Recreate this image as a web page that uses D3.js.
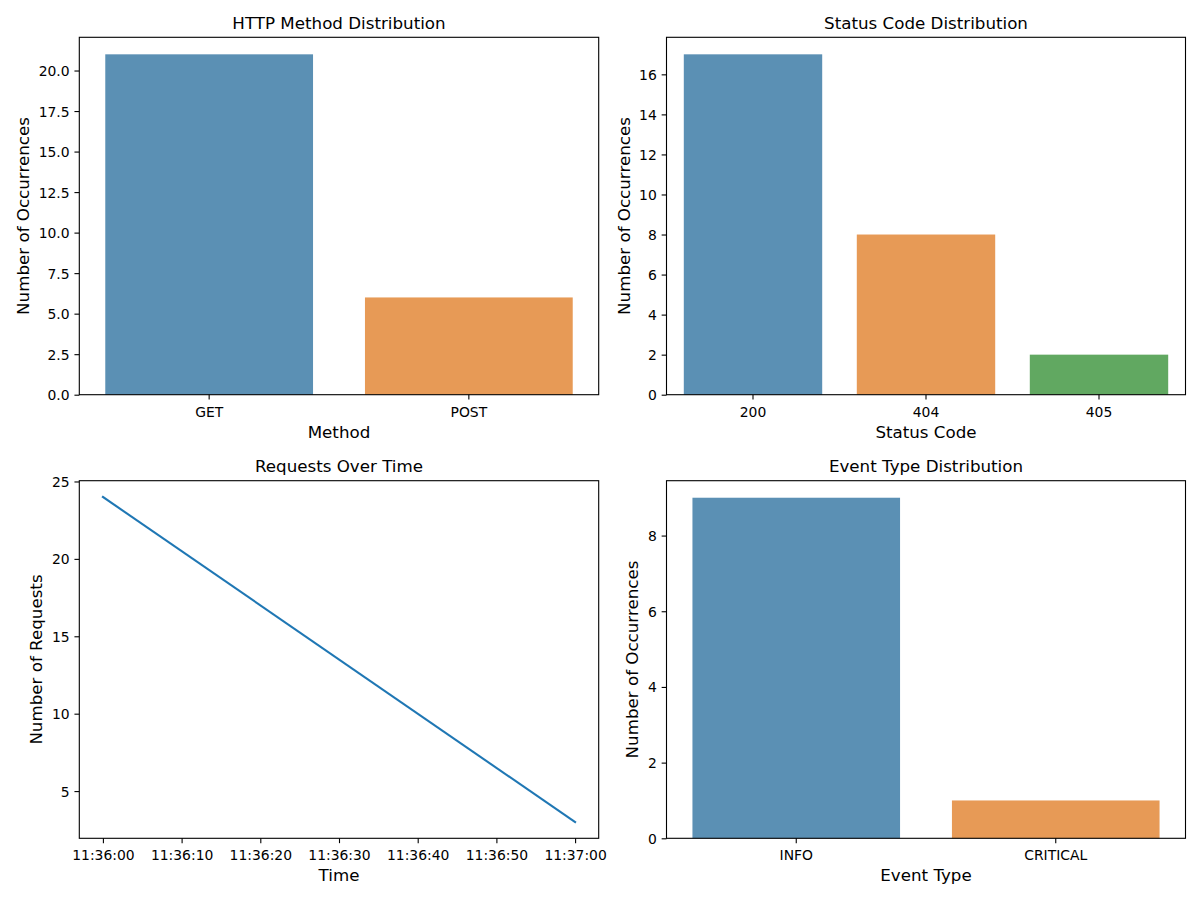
<!DOCTYPE html>
<html>
<head>
<meta charset="utf-8">
<script src="https://cdn.jsdelivr.net/npm/d3@7"></script>
<style>
  body { margin: 0; background: #fff; }
  svg { font-family: "DejaVu Sans", sans-serif; }
</style>
</head>
<body>
<div id="chart"></div>
<script>
// Data
const methods = ["GET", "POST"];
const methodCounts = [21, 6];
const methodTicks = [0, 2.5, 5, 7.5, 10, 12.5, 15, 17.5, 20];

const statusCodes = ["200", "404", "405"];
const statusCounts = [17, 8, 2];
const statusTicks = [0, 2, 4, 6, 8, 10, 12, 14, 16];

const requestTimes = ["11:36:00", "11:37:00"];
const requestCounts = [24, 3];

const eventTypes = ["INFO", "CRITICAL"];
const eventCounts = [9, 1];
const eventTicks = [0, 2, 4, 6, 8];

// Seaborn-ish palette (desaturated tab10, drawn with alpha 0.8)
const palette = ["#3274a1", "#e1812c", "#3a923a"];

const W = 1200, H = 900;
const tickFont = 13.9, labelFont = 16.7;
const tickLen = 4.86, tickPad = 4.86;

const svg = d3.select("#chart").append("svg")
  .attr("width", W)
  .attr("height", H);

// Panel boxes
const panels = {
  tl: {x0: 79.3, x1: 598.7, y0: 37.3, y1: 394.7},
  tr: {x0: 666.5, x1: 1185.5, y0: 37.3, y1: 394.7},
  bl: {x0: 79.3, x1: 598.7, y0: 480.7, y1: 838.3},
  br: {x0: 666.5, x1: 1185.5, y0: 480.7, y1: 838.3}
};

function styleAxis(g, bottom){
  g.attr("font-family", "DejaVu Sans, sans-serif").attr("font-size", tickFont);
  g.select(".domain").remove();
  g.selectAll(".tick line").attr("stroke", "#000").attr("stroke-width", 1.1);
  g.selectAll(".tick text")
    .attr("fill", "#000")
    .style("font-size", tickFont + "px")
    .attr("dy", bottom ? "0.88em" : "0.36em");
}

// Draw frame, title, axis labels
function decorate(p, title, xLabel, yLabel, yAxisG){
  svg.append("rect")
    .attr("x", p.x0).attr("y", p.y0)
    .attr("width", p.x1 - p.x0).attr("height", p.y1 - p.y0)
    .attr("fill", "none").attr("stroke", "#000").attr("stroke-width", 1.1);

  svg.append("text")
    .attr("x", (p.x0 + p.x1) / 2)
    .attr("y", p.y0 - 8.3)
    .attr("text-anchor", "middle")
    .style("font-size", labelFont + "px")
    .text(title);

  svg.append("text")
    .attr("x", (p.x0 + p.x1) / 2)
    .attr("y", p.y1 + 43)
    .attr("text-anchor", "middle")
    .style("font-size", labelFont + "px")
    .text(xLabel);

  // place y label left of the widest tick label
  let minX = p.x0;
  yAxisG.selectAll(".tick text").each(function(){
    const b = this.getBBox();
    minX = Math.min(minX, p.x0 + b.x);
  });
  const lx = minX - 5.6 - 3.9;
  const cy = (p.y0 + p.y1) / 2;
  svg.append("text")
    .attr("transform", "translate(" + lx + "," + cy + ") rotate(-90)")
    .attr("text-anchor", "middle")
    .style("font-size", labelFont + "px")
    .text(yLabel);
}

function barChart(p, cats, vals, ticks, fmt, title, xLabel){
  const x = d3.scaleBand()
    .domain(cats)
    .range([p.x0, p.x1])
    .paddingInner(0.2)
    .paddingOuter(0.1);

  const y = d3.scaleLinear()
    .domain([0, d3.max(vals) * 1.05])
    .range([p.y1, p.y0]);

  svg.append("g").selectAll("rect")
    .data(cats)
    .enter().append("rect")
    .attr("x", d => x(d))
    .attr("width", x.bandwidth())
    .attr("y", (d, i) => y(vals[i]))
    .attr("height", (d, i) => y(0) - y(vals[i]))
    .attr("fill", (d, i) => palette[i])
    .attr("fill-opacity", 0.8);

  const xg = svg.append("g")
    .attr("transform", "translate(0," + p.y1 + ")")
    .call(d3.axisBottom(x).tickSize(tickLen).tickPadding(tickPad));
  styleAxis(xg, true);

  const yg = svg.append("g")
    .attr("transform", "translate(" + p.x0 + ",0)")
    .call(d3.axisLeft(y).tickValues(ticks).tickFormat(fmt).tickSize(tickLen).tickPadding(tickPad));
  styleAxis(yg, false);

  decorate(p, title, xLabel, "Number of Occurrences", yg);
}

barChart(panels.tl, methods, methodCounts, methodTicks, d3.format(".1f"), "HTTP Method Distribution", "Method");
barChart(panels.tr, statusCodes, statusCounts, statusTicks, d3.format("d"), "Status Code Distribution", "Status Code");
barChart(panels.br, eventTypes, eventCounts, eventTicks, d3.format("d"), "Event Type Distribution", "Event Type");

// Requests over time line chart
(function(){
  const p = panels.bl;
  const parse = d3.timeParse("%Y-%m-%d %H:%M:%S");
  const pts = requestTimes.map((t, i) => ({t: parse("2024-01-01 " + t), v: requestCounts[i]}));

  const tExt = d3.extent(pts, d => d.t);
  const span = tExt[1] - tExt[0];
  const x = d3.scaleTime()
    .domain([new Date(+tExt[0] - span * 0.05), new Date(+tExt[1] + span * 0.05)])
    .range([p.x0, p.x1]);

  const vExt = d3.extent(pts, d => d.v);
  const vSpan = vExt[1] - vExt[0];
  const y = d3.scaleLinear()
    .domain([vExt[0] - vSpan * 0.05, vExt[1] + vSpan * 0.05])
    .range([p.y1, p.y0]);

  const line = d3.line()
    .x(d => x(d.t))
    .y(d => y(d.v));

  svg.append("path")
    .datum(pts)
    .attr("d", line)
    .attr("fill", "none")
    .attr("stroke", "#1f77b4")
    .attr("stroke-width", 2.08)
    .attr("stroke-linecap", "square");

  const xg = svg.append("g")
    .attr("transform", "translate(0," + p.y1 + ")")
    .call(d3.axisBottom(x)
      .tickValues(d3.timeSecond.every(10).range(tExt[0], new Date(+tExt[1] + 1)))
      .tickFormat(d3.timeFormat("%H:%M:%S"))
      .tickSize(tickLen).tickPadding(tickPad));
  styleAxis(xg, true);

  const yg = svg.append("g")
    .attr("transform", "translate(" + p.x0 + ",0)")
    .call(d3.axisLeft(y).ticks(5).tickSize(tickLen).tickPadding(tickPad));
  styleAxis(yg, false);

  decorate(p, "Requests Over Time", "Time", "Number of Requests", yg);
})();
</script>
</body>
</html>
